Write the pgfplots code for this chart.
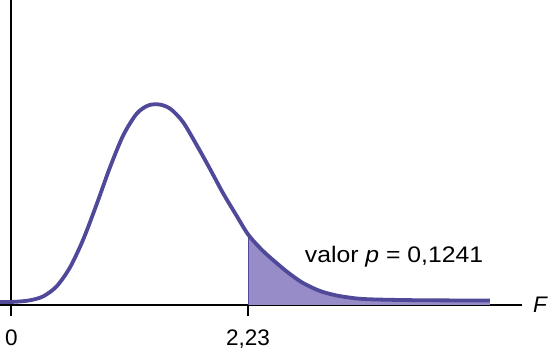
\documentclass[border=0pt]{standalone}
\usepackage{fontspec}
\setmainfont{Liberation Sans}
\usepackage{pgfplots}
\pgfplotsset{compat=1.18}
\definecolor{curvecol}{RGB}{80,72,152}
\definecolor{fillcol}{RGB}{152,140,200}
\newcommand{\bigfont}{\fontsize{22.5}{27}\selectfont}
\begin{document}
\begin{tikzpicture}
\useasboundingbox (0pt,-39pt) rectangle (550pt,316pt);
\begin{axis}[
  at={(0pt,0pt)}, anchor=south west,
  scale only axis, width=522pt, height=316pt,
  xmin=-0.1084, xmax=4.814, ymin=-0.0275, ymax=0.7625,
  axis lines=middle,
  axis line style={-, black, line width=2pt},
  clip=false,
  xtick={0,2.23}, xticklabels={\textrm{0},\textrm{2,23}},
  hide obscured x ticks=false,
  ytick=\empty,
  tick align=outside,
  major tick length=11.5pt,
  every tick/.style={black, line width=2pt},
  xticklabel style={font=\bigfont, inner sep=0pt, anchor=north, yshift=-13pt},
]
\addplot[draw=none, fill=fillcol, smooth] coordinates {
  (2.235,0.175) (2.372,0.135) (2.532,0.0975) (2.626,0.0775) (2.749,0.055)
  (2.909,0.035) (3.066,0.02375) (3.239,0.01675) (3.380,0.01425) (3.663,0.0125)
  (3.946,0.01175) (4.512,0.011)
} \closedcycle;
\addplot[curvecol, line width=1pt] coordinates {(2.235,0) (2.235,0.175)};
\addplot[curvecol, line width=3.8pt, smooth] coordinates {
  (-0.108,0.0075) (0.033,0.0080) (0.174,0.01175) (0.300,0.02175) (0.426,0.04675)
  (0.552,0.09425) (0.677,0.16425) (0.803,0.25175) (0.929,0.34425) (1.054,0.42425)
  (1.180,0.4780) (1.290,0.4990) (1.400,0.5010) (1.500,0.4900) (1.617,0.4575)
  (1.746,0.400) (1.872,0.340) (1.994,0.280) (2.124,0.2225) (2.235,0.175)
  (2.372,0.135) (2.532,0.0975) (2.626,0.0775) (2.749,0.055) (2.909,0.035)
  (3.066,0.02375) (3.239,0.01675) (3.380,0.01425) (3.663,0.0125) (3.946,0.01175)
  (4.512,0.011)
};
\node[font=\bigfont, anchor=base, inner sep=0pt] at (axis cs:3.607,0.1058) {\scalebox{1.1}[1]{valor \textit{p} = 0,1241}};
\node[font=\bigfont, anchor=west, inner sep=0pt, xshift=11pt] at (axis cs:4.814,0) {\textit{F}};
\end{axis}
\end{tikzpicture}
\end{document}
